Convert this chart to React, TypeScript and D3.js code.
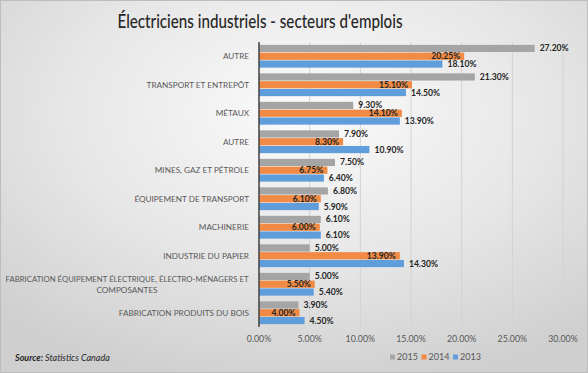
import * as d3 from 'd3';
import { useLayoutEffect, useRef } from 'react';

// categories, top to bottom
const categories = [
  'AUTRE',
  'TRANSPORT ET ENTREPÔT',
  'MÉTAUX',
  'AUTRE',
  'MINES, GAZ ET PÉTROLE',
  'ÉQUIPEMENT DE TRANSPORT',
  'MACHINERIE',
  'INDUSTRIE DU PAPIER',
  'FABRICATION ÉQUIPEMENT ÉLECTRIQUE, ÉLECTRO-MÉNAGERS ET|COMPOSANTES',
  'FABRICATION PRODUITS DU BOIS',
];

const years = ['2015', '2014', '2013'];
const values2015 = [27.2, 21.3, 9.3, 7.9, 7.5, 6.8, 6.1, 5.0, 5.0, 3.9];
const values2014 = [20.25, 15.1, 14.1, 8.3, 6.75, 6.1, 6.0, 13.9, 5.5, 4.0];
const values2013 = [18.1, 14.5, 13.9, 10.9, 6.4, 5.9, 6.1, 14.3, 5.4, 4.5];
const xTicks = [0, 5, 10, 15, 20, 25, 30];

const colors: Record<string, string> = {
  '2015': '#a5a5a5',
  '2014': '#f08a45',
  '2013': '#5f9ddb',
};

const FONT = 'Lato, "Open Sans", sans-serif';

export default function App() {
  const container = useRef<HTMLDivElement>(null);

  useLayoutEffect(() => {
    if (!container.current) return;
    const W = 588,
      H = 373;
    const margin = { top: 42, right: 25, bottom: 46, left: 259 };

    d3.select(container.current).select('svg').remove();
    const root = d3
      .select(container.current)
      .append('svg')
      .attr('width', W)
      .attr('height', H)
      .style('display', 'block');

    // background
    const defs = root.append('defs');
    const grad = defs
      .append('radialGradient')
      .attr('id', 'bg')
      .attr('cx', '52%')
      .attr('cy', '30%')
      .attr('r', '75%');
    grad.append('stop').attr('offset', '0%').attr('stop-color', '#fbfbfb');
    grad.append('stop').attr('offset', '55%').attr('stop-color', '#e6e6e6');
    grad.append('stop').attr('offset', '100%').attr('stop-color', '#cfcfcf');
    root
      .append('rect')
      .attr('x', 0.5)
      .attr('y', 0.5)
      .attr('width', W - 1)
      .attr('height', H - 1)
      .attr('fill', 'url(#bg)')
      .attr('stroke', '#bdbdbd');

    // title
    root
      .append('text')
      .text("Électriciens industriels - secteurs d'emplois")
      .attr('x', 260)
      .attr('y', 28)
      .attr('text-anchor', 'middle')
      .attr('textLength', 285)
      .attr('lengthAdjust', 'spacingAndGlyphs')
      .style('font-family', FONT)
      .style('font-size', '20px')
      .style('font-weight', 500)
      .style('fill', '#262626');

    const svg = root.append('g').attr('transform', `translate(${margin.left},${margin.top})`);
    const width = 563 - margin.left;
    const height = 327 - margin.top;

    const data = categories.map((c, i) => ({
      key: String(i),
      label: c,
      vals: [
        { year: '2015', v: values2015[i] },
        { year: '2014', v: values2014[i] },
        { year: '2013', v: values2013[i] },
      ],
    }));

    const x = d3.scaleLinear().domain([0, 30]).range([0, width]);
    const y = d3
      .scaleBand()
      .domain(data.map((d) => d.key))
      .range([0, height])
      .paddingInner(0.2)
      .paddingOuter(0.1);
    const ySub = d3.scaleBand().domain(years).range([0, y.bandwidth()]).paddingInner(0.08);

    // grid
    svg
      .append('g')
      .selectAll('line')
      .data(xTicks.filter((t) => t > 0))
      .join('line')
      .attr('x1', (d) => x(d))
      .attr('x2', (d) => x(d))
      .attr('y1', 0)
      .attr('y2', height)
      .attr('stroke', '#d2d2d2')
      .attr('stroke-width', 1);

    // x tick labels
    svg
      .append('g')
      .selectAll('text')
      .data(xTicks)
      .join('text')
      .text((d) => `${d.toFixed(2)}%`)
      .attr('x', (d) => x(d))
      .attr('y', height + 14.5)
      .attr('text-anchor', 'middle')
      .style('font-family', FONT)
      .style('font-size', '8.8px')
      .style('fill', '#595959');

    const groups = svg
      .append('g')
      .selectAll('g')
      .data(data)
      .join('g')
      .attr('transform', (d) => `translate(0,${y(d.key)})`);

    groups
      .selectAll('rect')
      .data((d) => d.vals)
      .join('rect')
      .attr('x', 0)
      .attr('y', (d) => ySub(d.year) ?? 0)
      .attr('width', (d) => x(d.v))
      .attr('height', ySub.bandwidth())
      .attr('fill', (d) => colors[d.year]);

    // data labels: 2014 inside end, others outside end
    groups
      .selectAll('text.val')
      .data((d) => d.vals)
      .join('text')
      .classed('val', true)
      .text((d) => `${d.v.toFixed(2)}%`)
      .attr('x', (d) => (d.year === '2014' ? x(d.v) - 4 : x(d.v) + 5))
      .attr('y', (d) => (ySub(d.year) ?? 0) + ySub.bandwidth() / 2)
      .attr('dy', '0.35em')
      .attr('text-anchor', (d) => (d.year === '2014' ? 'end' : 'start'))
      .style('font-family', FONT)
      .style('font-size', '8.6px')
      .style('font-weight', 'bold')
      .style('fill', '#262626');

    // category labels
    groups.each(function (d) {
      const lines = d.label.split('|');
      const g = d3.select(this);
      const cy = y.bandwidth() / 2;
      const lh = 11;
      const t = g
        .append('text')
        .attr('text-anchor', lines.length > 1 ? 'middle' : 'end')
        .style('font-family', FONT)
        .style('font-size', '8.2px')
        .style('fill', '#595959');
      lines.forEach((ln, i) => {
        const span = t
          .append('tspan')
          .text(ln)
          .attr('x', lines.length > 1 ? -132 : -10)
          .attr('y', cy + (i - (lines.length - 1) / 2) * lh)
          .attr('dy', '0.35em');
        // the long wrapped line spans almost the whole left margin
        if (lines.length > 1 && i === 0) {
          span.attr('textLength', 243).attr('lengthAdjust', 'spacingAndGlyphs');
        }
      });
    });

    // axis line
    svg
      .append('line')
      .attr('x1', 0)
      .attr('x2', 0)
      .attr('y1', 0)
      .attr('y2', height)
      .attr('stroke', '#404040')
      .attr('stroke-width', 1.5);

    // legend
    const legend = root.append('g').attr('transform', 'translate(390,357)');
    const items = legend
      .selectAll('g')
      .data(years)
      .join('g')
      .attr('transform', (d, i) => `translate(${i * 31.5},0)`);
    items
      .append('rect')
      .attr('x', 0)
      .attr('y', -2.5)
      .attr('width', 5)
      .attr('height', 5)
      .attr('fill', (d) => colors[d]);
    items
      .append('text')
      .text((d) => d)
      .attr('x', 7)
      .attr('y', 0)
      .attr('dy', '0.35em')
      .style('font-family', FONT)
      .style('font-size', '9px')
      .style('fill', '#595959');

    // source
    const src = root
      .append('text')
      .attr('x', 15)
      .attr('y', 361)
      .style('font-family', FONT)
      .style('font-size', '9px')
      .style('font-style', 'italic')
      .style('fill', '#262626');
    src.append('tspan').text('Source:').style('font-weight', 'bold');
    src.append('tspan').text(' Statistics Canada');
  }, []);

  return (
    <div
      ref={container}
      style={{ position: 'absolute', left: 0, top: 0, width: 588, height: 373 }}
    ></div>
  );
}
